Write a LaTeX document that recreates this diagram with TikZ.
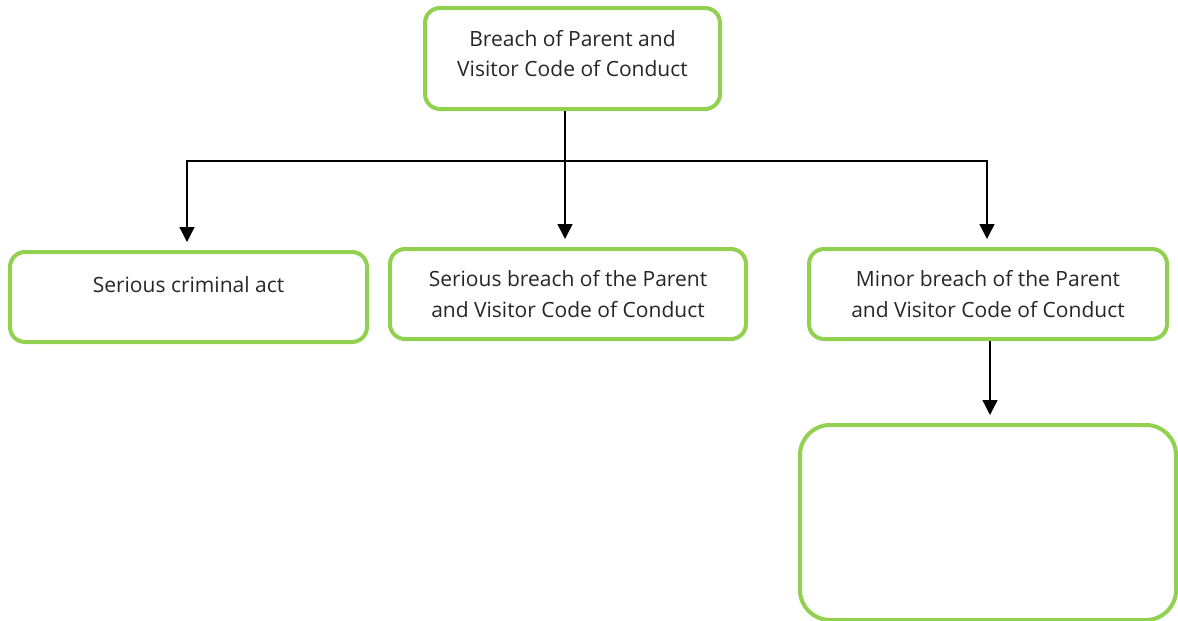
\documentclass[tikz,border=0pt]{standalone}
\usepackage{fontspec}
\setmainfont{Open Sans}
\usepackage{tikz}
\usetikzlibrary{arrows.meta}
\definecolor{boxgreen}{RGB}{146,208,80}

\begin{document}
\begin{tikzpicture}
            [x=1pt,y=-1pt,
             every node/.style={font=\fontsize{21}{30.5}\selectfont,text=black!85,align=center},
             box/.style={draw=boxgreen,line width=4pt,rounded corners=15pt,inner sep=0pt},
             arrow/.style={line width=1.4pt,-{Triangle[width=15pt,length=15pt]},shorten >=8pt}]
            \useasboundingbox (0,0) rectangle (1178,621);
            \node[box,minimum width=295pt,minimum height=101pt,text depth=10pt] (code) at (572.5,58.5) {Breach of Parent and\\Visitor Code of Conduct};
            \node[box,minimum width=357pt,minimum height=90pt,text depth=24pt] (crime) at (188.5,297) {Serious criminal act};
            \node[box,minimum width=356pt,minimum height=90pt] (serious) at (568,294) {Serious breach of the Parent\\and Visitor Code of Conduct};
            \node[box,minimum width=358pt,minimum height=90pt] (minor) at (988,294) {Minor breach of the Parent\\and Visitor Code of Conduct};
            \node[box,minimum width=376pt,minimum height=195pt,rounded corners=30pt] (action) at (988,522.5) {};
            \coordinate (hub) at (565,161);
            \draw[arrow] (code.south -| hub) -- (serious.north -| hub);
            \draw[arrow] (hub) -| (crime.north -| 187,0);
            \draw[arrow] (hub) -| (minor.north -| 987,0);
            \draw[arrow] (minor.south -| 990,0) -- (action.north -| 990,0);
        \end{tikzpicture}
\end{document}
